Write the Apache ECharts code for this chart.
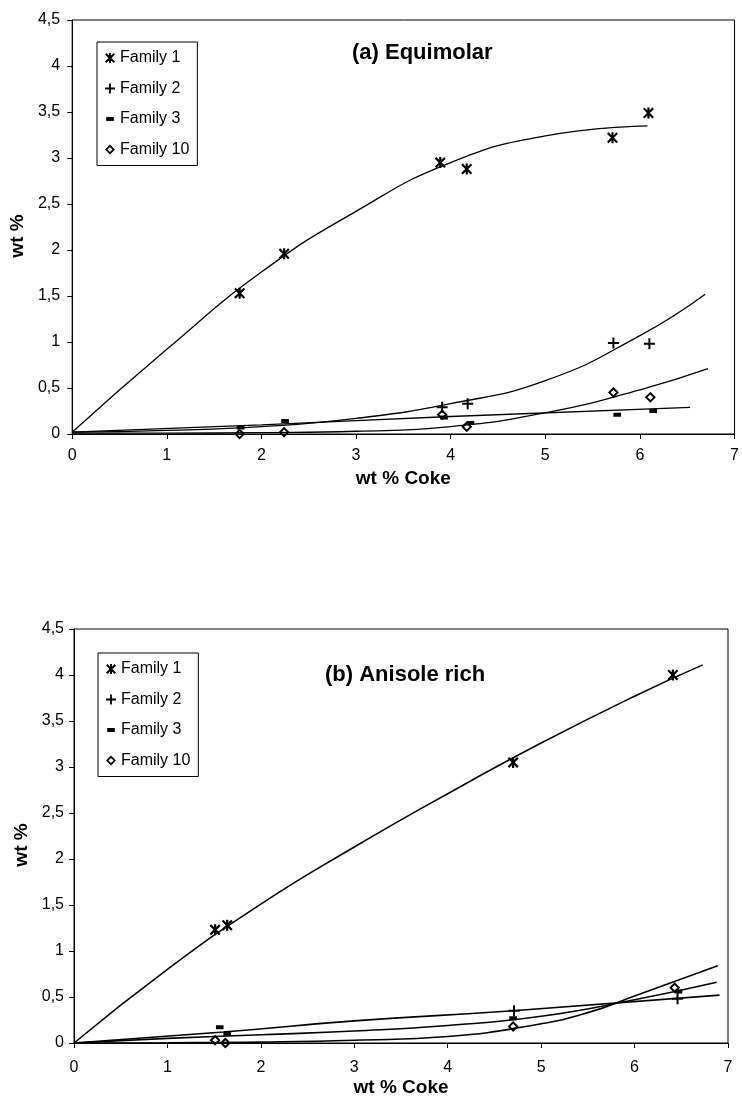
<!DOCTYPE html>
<html>
<head>
<meta charset="utf-8">
<script src="https://cdn.jsdelivr.net/npm/echarts@6/dist/echarts.min.js"></script>
<style>
html,body{margin:0;padding:0;background:#fff;}
#chart{width:742px;height:1098px;}
</style>
</head>
<body>
<div id="chart"></div>
<script>
// ---- Labels ----
const familyNames = ['Family 1', 'Family 2', 'Family 3', 'Family 10'];
const titleA = '(a) Equimolar';
const titleB = '(b) Anisole rich';
const xName = 'wt % Coke';
const yName = 'wt %';

// ---- Data: (a) Equimolar ----
const aF1 = [[1.77,1.53],[2.24,1.96],[3.89,2.95],[4.17,2.88],[5.71,3.22],[6.09,3.49]];
const aF2 = [[3.91,0.29],[4.18,0.33],[5.72,0.99],[6.10,0.98]];
const aF3 = [[1.78,0.07],[2.25,0.14],[3.93,0.18],[4.21,0.12],[5.76,0.21],[6.14,0.25]];
const aF10 = [[1.77,0.00],[2.24,0.02],[3.91,0.21],[4.17,0.08],[5.72,0.45],[6.11,0.40]];

const aF1Fit = [[0,0.02],[1,0.92],[2,1.76],[3,2.42],[4,2.95],[5,3.24],[6.08,3.35]];
const aF2Fit = [[0,0.02],[1,0.04],[2,0.08],[3,0.17],[4,0.33],[5,0.58],[6,1.07],[6.69,1.52]];
const aF3Fit = [[0,0.02],[2,0.10],[4,0.19],[6.53,0.29]];
const aF10Fit = [[0,0.01],[1,0.01],[2,0.015],[3,0.03],[4,0.08],[5,0.23],[6,0.48],[6.72,0.71]];

// ---- Data: (b) Anisole rich ----
const bF1 = [[1.51,1.23],[1.64,1.28],[4.70,3.05],[6.41,4.00]];
const bF2 = [[4.71,0.35],[6.46,0.48]];
const bF3 = [[1.56,0.17],[1.64,0.10],[4.70,0.27],[6.47,0.56]];
const bF10 = [[1.51,0.03],[1.62,0.00],[4.70,0.18],[6.43,0.60]];

const bF1Fit = [[0,0],[1,0.80],[2,1.51],[3,2.13],[4,2.71],[5,3.26],[6,3.77],[6.73,4.11]];
const bF2Fit = [[0,0],[1.6,0.12],[3,0.24],[4.7,0.35],[6.91,0.52]];
const bF3Fit = [[0,0],[1,0.05],[2,0.09],[3,0.13],[4,0.19],[5,0.29],[6,0.47],[6.88,0.66]];
const bF10Fit = [[0,0],[1,0.003],[2,0.01],[3,0.03],[4,0.07],[5,0.21],[5.5,0.33],[6,0.51],[6.89,0.84]];

// ---- Symbols ----
const symAsterisk = 'path://M1.4,0L10,8.6L8.6,10L0,1.4Z M10,1.4L1.4,10L0,8.6L8.6,0Z M4,0L6,0L6,10L4,10Z';
const symPlus = 'path://M4.1,0H5.9V4.1H10V5.9H5.9V10H4.1V5.9H0V4.1H4.1Z';
const symDash = 'path://M0,0L0.01,0L0,0.01Z M1.2,3H8.8V7H1.2Z M10,10L9.99,10L10,9.99Z';
const symDiamond = 'path://M5,0L10,5L5,10L0,5Z M5,2.5L2.5,5L5,7.5L7.5,5Z';
const symbols = [symAsterisk, symPlus, symDash, symDiamond];
const symSizes = [11, 11, 10, 11];

const chart = echarts.init(document.getElementById('chart'), null, {renderer: 'canvas'});

const FONT = 'Arial, "Liberation Sans", sans-serif';
const fmt = v => String(v).replace('.', ',');

function xAxisDef(gi, margin) {
  return {
    type: 'value', gridIndex: gi, min: 0, max: 7, interval: 1,
    name: xName, nameLocation: 'middle', nameGap: 35,
    nameTextStyle: {fontFamily: FONT, fontWeight: 'bold', fontSize: 19, color: '#000'},
    axisLine: {show: true, lineStyle: {color: '#000', width: 1}},
    axisTick: {show: true, inside: false, length: 5, lineStyle: {color: '#000'}},
    axisLabel: {fontFamily: FONT, fontSize: 16, color: '#000', margin: margin, formatter: fmt},
    splitLine: {show: false}
  };
}
function yAxisDef(gi, margin) {
  return {
    type: 'value', gridIndex: gi, min: 0, max: 4.5, interval: 0.5,
    name: yName, nameLocation: 'middle', nameGap: 37, nameRotate: 90,
    nameTextStyle: {fontFamily: FONT, fontWeight: 'bold', fontSize: 19, color: '#000', padding: [0, 18, 0, 0]},
    axisLine: {show: true, lineStyle: {color: '#000', width: 1}},
    axisTick: {show: true, inside: false, length: 5, lineStyle: {color: '#000'}},
    axisLabel: {fontFamily: FONT, fontSize: 16, color: '#000', margin: margin, formatter: fmt},
    splitLine: {show: false}
  };
}

const series = [];
function addScatter(gi, idx, data) {
  series.push({
    type: 'scatter', name: familyNames[idx], xAxisIndex: gi, yAxisIndex: gi,
    data: data, symbol: symbols[idx], symbolSize: symSizes[idx],
    itemStyle: {color: '#000', opacity: 1}, z: 5
  });
}
function addFit(gi, idx, data, w) {
  series.push({
    type: 'line', name: familyNames[idx] + ' fit ' + gi, xAxisIndex: gi, yAxisIndex: gi,
    data: data, smooth: 0.5, showSymbol: false, symbol: 'none',
    lineStyle: {color: '#000', width: w}, z: 3
  });
}
[aF1, aF2, aF3, aF10].forEach((d, i) => addScatter(0, i, d));
[aF1Fit, aF2Fit, aF3Fit, aF10Fit].forEach((d, i) => addFit(0, i, d, 1.3));
[bF1, bF2, bF3, bF10].forEach((d, i) => addScatter(1, i, d));
[bF1Fit, bF2Fit, bF3Fit, bF10Fit].forEach((d, i) => addFit(1, i, d, 1.6));

function legendDef(left, top) {
  return {
    orient: 'vertical', left: left, top: top,
    data: familyNames.map((n, i) => ({name: n, icon: symbols[i]})),
    itemWidth: 10, itemHeight: 10, itemGap: 14.5,
    padding: [8, 8, 8, 8],
    borderColor: '#000', borderWidth: 1, backgroundColor: '#fff',
    textStyle: {fontFamily: FONT, fontSize: 16, color: '#000'},
    itemStyle: {color: '#000'},
    selectedMode: false
  };
}

const option = {
  animation: false,
  backgroundColor: '#fff',
  title: [
    {text: titleA, left: 352, top: 42, textStyle: {fontFamily: FONT, fontWeight: 'bold', fontSize: 22, color: '#000'}, padding: 0},
    {text: titleB, left: 325, top: 664, textStyle: {fontFamily: FONT, fontWeight: 'bold', fontSize: 22, color: '#000'}, padding: 0}
  ],
  legend: [legendDef(97, 42), legendDef(98, 653)],
  grid: [
    {left: 69, top: 20, width: 668, height: 414, show: true, borderColor: '#000', borderWidth: 1, backgroundColor: 'transparent'},
    {left: 74, top: 629, width: 654, height: 416, show: true, borderColor: '#000', borderWidth: 1, backgroundColor: 'transparent'}
  ],
  xAxis: [xAxisDef(0, 14), xAxisDef(1, 17)],
  yAxis: [yAxisDef(0, 12), yAxisDef(1, 10)],
  series: series
};
chart.setOption(option);
</script>
</body>
</html>
